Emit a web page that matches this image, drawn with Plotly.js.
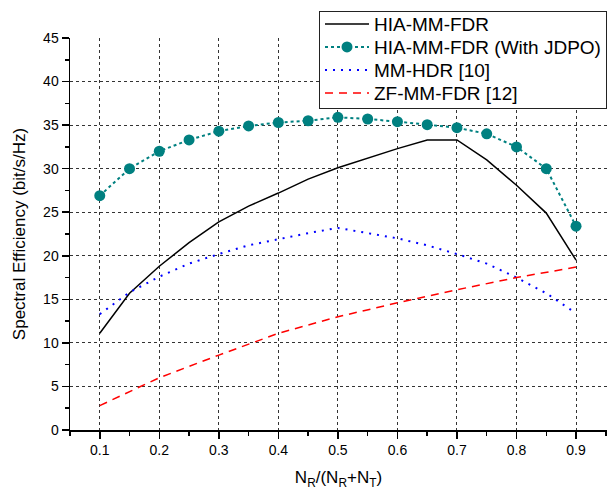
<!DOCTYPE html>
<html>
<head>
<meta charset="utf-8">
<script src="https://cdn.plot.ly/plotly-3.0.1.min.js"></script>
<style>html,body{margin:0;padding:0;background:#fff;}#chart{width:609px;height:493px;}</style>
</head>
<body>
<div id="chart"></div>
<script>
// x positions: N_R/(N_R+N_T)
const ratio = [0.1, 0.15, 0.2, 0.25, 0.3, 0.35, 0.4, 0.45, 0.5, 0.55, 0.6, 0.65, 0.7, 0.75, 0.8, 0.85, 0.9];
const hiaMmFdr = [11.1, 15.7, 18.8, 21.5, 23.9, 25.7, 27.2, 28.8, 30.1, 31.2, 32.3, 33.3, 33.3, 31.0, 28.1, 24.9, 19.5];
const hiaMmFdrJdpo = [26.9, 30.0, 32.0, 33.3, 34.3, 34.9, 35.3, 35.5, 35.9, 35.7, 35.4, 35.05, 34.7, 34.0, 32.5, 30.0, 23.4];
const mmHdr = [13.3, 15.8, 17.6, 19.1, 20.2, 21.2, 21.9, 22.6, 23.2, 22.6, 22.0, 21.2, 20.2, 19.1, 17.5, 15.7, 13.4];
const ratioCoarse = [0.1, 0.2, 0.3, 0.4, 0.5, 0.6, 0.7, 0.8, 0.9];
const zfMmFdr = [2.8, 6.0, 8.6, 11.1, 13.0, 14.6, 16.1, 17.5, 18.7];
const seriesNames = ['HIA-MM-FDR', 'HIA-MM-FDR (With JDPO)', 'MM-HDR [10]', 'ZF-MM-FDR [12]'];
const xTickVals = [0.1, 0.2, 0.3, 0.4, 0.5, 0.6, 0.7, 0.8, 0.9];
const yTickVals = [0, 5, 10, 15, 20, 25, 30, 35, 40, 45];

const FONT = 'Arial, "Liberation Sans", sans-serif';

const traces = [
  {x: ratio, y: hiaMmFdr, name: seriesNames[0], mode: 'lines',
   line: {color: '#000000', width: 1.5}},
  {x: ratio, y: hiaMmFdrJdpo, name: seriesNames[1], mode: 'lines+markers',
   line: {color: '#008080', width: 2, dash: '3px,3px'},
   marker: {color: '#008080', size: 11, symbol: 'circle'}},
  {x: ratio, y: mmHdr, name: seriesNames[2], mode: 'lines',
   line: {color: '#0000ff', width: 2, dash: '2px,6px'}},
  {x: ratioCoarse, y: zfMmFdr, name: seriesNames[3], mode: 'lines',
   line: {color: '#ff0000', width: 1.5, dash: '8px,6px'}}
];

const layout = {
  width: 609, height: 493,
  margin: {l: 70, r: 2, t: 38, b: 63, autoexpand: false},
  paper_bgcolor: '#ffffff', plot_bgcolor: '#ffffff',
  font: {family: FONT, color: '#000000', size: 14},
  showlegend: true,
  legend: {
    x: 1, xanchor: 'right', y: 1.069, yanchor: 'top',
    bgcolor: '#ffffff', bordercolor: '#222222', borderwidth: 1,
    font: {family: FONT, size: 19, color: '#000000'},
    itemwidth: 44, tracegroupgap: 0
  },
  xaxis: {
    range: [0.05, 0.952],
    tickvals: xTickVals, ticktext: xTickVals.map(v => v.toFixed(1)),
    ticks: 'outside', ticklen: 7, tickwidth: 1.5, tickcolor: '#000',
    showline: true, linecolor: '#000', linewidth: 1.5,
    showgrid: true, gridcolor: '#333333', gridwidth: 1, griddash: '3px,3px',
    zeroline: false,
    minor: {dtick: 0.05, tick0: 0.05, ticks: 'outside', ticklen: 4, tickwidth: 1.5, tickcolor: '#000', showgrid: false},
    tickfont: {family: FONT, size: 14},
    title: {text: 'N<sub>R</sub>/(N<sub>R</sub>+N<sub>T</sub>)', font: {family: FONT, size: 17}, standoff: 14}
  },
  yaxis: {
    range: [0, 45],
    tickvals: yTickVals,
    ticks: 'outside', ticklen: 7, tickwidth: 1.5, tickcolor: '#000',
    showline: true, linecolor: '#000', linewidth: 1.5,
    showgrid: true, gridcolor: '#333333', gridwidth: 1, griddash: '3px,3px',
    zeroline: false,
    minor: {dtick: 2.5, tick0: 0, ticks: 'outside', ticklen: 4, tickwidth: 1.5, tickcolor: '#000', showgrid: false},
    tickfont: {family: FONT, size: 14},
    title: {text: 'Spectral Efficiency (bit/s/Hz)', font: {family: FONT, size: 17}, standoff: 13}
  }
};

// tighten legend rows to the reference spacing (first row 13 px below the top, 23 px per row, box 97 px tall)
function tightenLegend(gd) {
  try {
    const lg = gd.querySelector('g.legend');
    if (!lg) return;
    const items = Array.from(lg.querySelectorAll('g.traces'));
    items.forEach((it, i) => {
      const m = (it.getAttribute('transform') || '').match(/translate\(\s*([-\d.e]+)/);
      const x = m ? parseFloat(m[1]) : 1;
      it.setAttribute('transform', `translate(${x},${13 + i * 23})`);
    });
    const bg = lg.querySelector('rect.bg');
    if (bg) bg.setAttribute('height', 97);
  } catch (e) {}
}

const gd = document.getElementById('chart');
Plotly.newPlot(gd, traces, layout, {displayModeBar: false, staticPlot: true}).then(() => {
  tightenLegend(gd);
  gd.on('plotly_afterplot', () => tightenLegend(gd));
});
</script>
</body>
</html>
